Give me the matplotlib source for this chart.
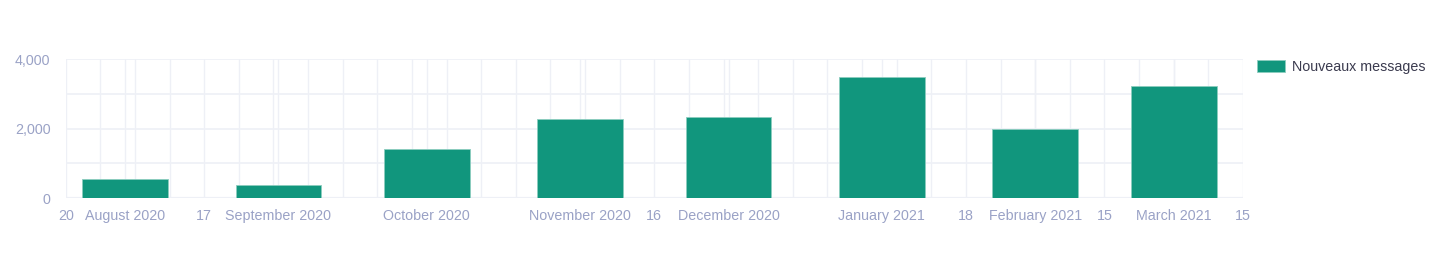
import matplotlib
matplotlib.use("Agg")
import matplotlib.pyplot as plt
import matplotlib.dates as mdates
import pandas as pd
from matplotlib.patches import Patch

# Data
months = ["2020-08-01", "2020-09-01", "2020-10-01", "2020-11-01",
          "2020-12-01", "2021-01-01", "2021-02-01", "2021-03-01"]
month_labels = ["August 2020", "September 2020", "October 2020", "November 2020",
                "December 2020", "January 2021", "February 2021", "March 2021"]
messages = [550, 370, 1410, 2270, 2345, 3490, 1980, 3230]
day_ticks = ["2020-07-20", "2020-08-17", "2020-11-16", "2021-01-18",
             "2021-02-15", "2021-03-15"]
day_labels = ["20", "17", "16", "18", "15", "15"]
series_name = "Nouveaux messages"

BAR = "#11967D"
GRID = "#EEF0F6"
TICK = "#9AA2C6"

plt.rcParams["font.family"] = ["Liberation Sans", "DejaVu Sans"]

fig = plt.figure(figsize=(14.35, 2.57), dpi=100)
ax = fig.add_axes([65.7 / 1435, 59 / 257, (1243 - 65.7) / 1435, (198 - 59.3) / 257])

x_month = pd.to_datetime(months)
x_day = pd.to_datetime(day_ticks)

ax.bar(x_month, messages, width=17.3, color=BAR, edgecolor="#8CCDBF",
       linewidth=0.6, zorder=3)

xmin, xmax = x_day[0], x_day[-1]
ax.set_xlim(xmin, xmax)
ax.set_ylim(0, 4000)

# vertical grid: weekly Mondays + month starts
mondays = pd.date_range(xmin, xmax, freq="W-MON")
for d in list(mondays) + list(x_month):
    ax.axvline(d, color=GRID, lw=1, zorder=0)
for yv in [0, 1000, 2000, 3000, 4000]:
    ax.axhline(yv, color=GRID, lw=1.2 if yv else 1.6, zorder=0)

ticks = list(x_month) + list(x_day)
labels = month_labels + day_labels
ax.set_xticks(ticks)
ax.set_xticklabels(labels)
ax.set_yticks([0, 2000, 4000])
ax.set_yticklabels([f"{v:,}" for v in [0, 2000, 4000]])
ax.tick_params(axis="x", length=0, pad=8, labelsize=10.3, labelcolor=TICK)
ax.tick_params(axis="y", length=0, pad=11, labelsize=10.3, labelcolor=TICK)
ax.grid(False)
for s in ax.spines.values():
    s.set_visible(False)

handle = Patch(facecolor=BAR, edgecolor="#8CCDBF", linewidth=0.6)
fig.legend([handle], [series_name], loc="upper left",
           bbox_to_anchor=(1251 / 1435, 1 - 54 / 257), frameon=False,
           fontsize=10.3, handlelength=2.0, handleheight=0.95,
           handletextpad=0.45, borderaxespad=0, labelcolor="#3B3B4F")

fig.savefig("out.png", dpi=100, facecolor="white")
